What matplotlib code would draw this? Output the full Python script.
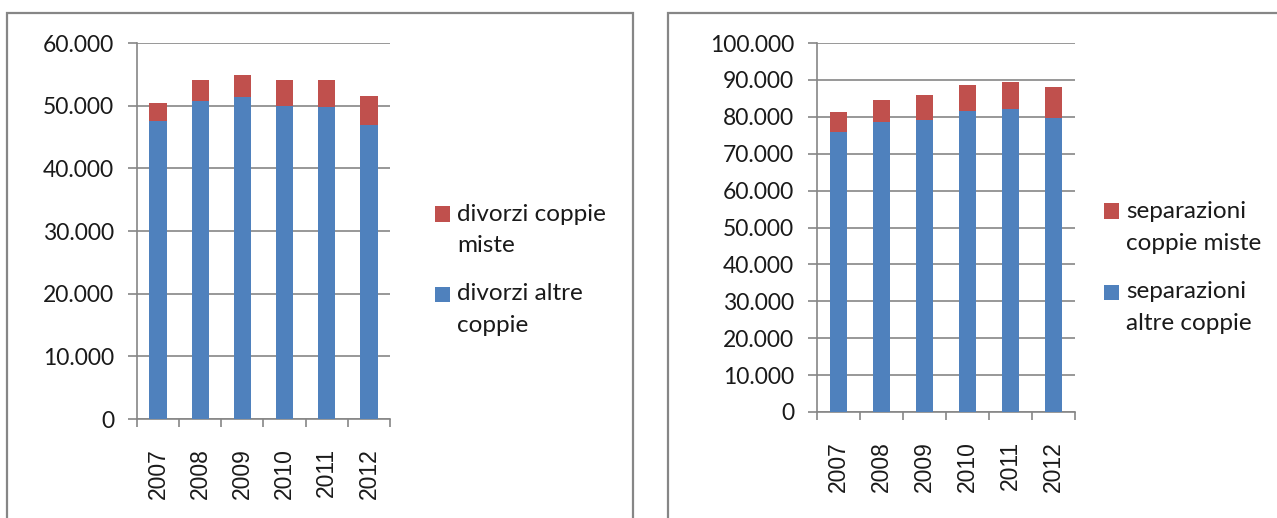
import matplotlib
matplotlib.use("Agg")
import matplotlib.pyplot as plt
import matplotlib.ticker as ticker
from matplotlib.patches import Rectangle

years = ['2007', '2008', '2009', '2010', '2011', '2012']

divorzi_altre = [47500, 50800, 51400, 50000, 49800, 46900]
divorzi_miste = [2900, 3300, 3500, 4100, 4300, 4700]

separazioni_altre = [75900, 78700, 79000, 81500, 82200, 79800]
separazioni_miste = [5400, 5900, 6900, 7200, 7300, 8300]

blue = '#4F81BD'
red = '#C0504D'
grey = '#868686'
txt = '#1a1a1a'

plt.rcParams['font.family'] = ['Lato', 'DejaVu Sans']

W, H = 1277, 518
fig = plt.figure(figsize=(W / 100, H / 100), dpi=100)


def thousands(v, pos):
    return f"{int(v):,}".replace(',', '.')


def draw_panel(ax, altre, miste, ymax, step):
    x = list(range(len(years)))
    ax.bar(x, altre, width=0.41, color=blue, zorder=3)
    ax.bar(x, miste, width=0.41, bottom=altre, color=red, zorder=3)
    ax.set_xlim(-0.5, len(years) - 0.5)
    ax.set_ylim(0, ymax)
    ax.yaxis.set_major_locator(ticker.MultipleLocator(step))
    ax.yaxis.set_major_formatter(ticker.FuncFormatter(thousands))
    ax.yaxis.grid(True, color=grey, linewidth=1.2, zorder=0)
    ax.set_xticks(x)
    ax.set_xticklabels(years, rotation=90, fontsize=16.5, color=txt,
                       family=['Liberation Sans', 'DejaVu Sans'])
    ax.tick_params(axis='x', length=0, pad=21)
    ax.set_xticks([i - 0.5 for i in range(len(years) + 1)], minor=True)
    ax.tick_params(axis='x', which='minor', length=6, width=1.2, color=grey, direction='out')
    ax.tick_params(axis='y', length=6.5, width=1.2, color=grey, labelsize=16.5,
                   labelcolor=txt, pad=10)
    for s in ['top', 'right']:
        ax.spines[s].set_visible(False)
    for s in ['left', 'bottom']:
        ax.spines[s].set_color(grey)
        ax.spines[s].set_linewidth(1.2)
    ax.set_facecolor('none')


def legend_entry(xm, ym, color, label):
    # square marker plus label lines, positions in pixels of the figure
    fig.patches.append(Rectangle((xm / W, 1 - (ym + 7.5) / H), 15 / W, 15 / H,
                                 transform=fig.transFigure, facecolor=color,
                                 edgecolor='none'))
    for i, line in enumerate(label.split('\n')):
        fig.text((xm + 22) / W, 1 - (ym + 32 * i) / H, line, fontsize=17.5,
                 color=txt, va='center', ha='left')


ax1 = fig.add_axes([137 / W, 1 - 419 / H, 253 / W, 376 / H])
draw_panel(ax1, divorzi_altre, divorzi_miste, 60000, 10000)

ax2 = fig.add_axes([817 / W, 1 - 412 / H, 258 / W, 369 / H])
draw_panel(ax2, separazioni_altre, separazioni_miste, 100000, 10000)

legend_entry(435, 214, red, 'divorzi coppie\nmiste')
legend_entry(435, 294, blue, 'divorzi altre\ncoppie')
legend_entry(1104, 211, red, 'separazioni\ncoppie miste')
legend_entry(1104, 292, blue, 'separazioni\naltre coppie')

# chart area borders
fig.patches.append(Rectangle((7 / W, -0.01), 626 / W, 1 - 13 / H + 0.01,
                             transform=fig.transFigure, fill=False,
                             edgecolor=grey, linewidth=1.6))
fig.patches.append(Rectangle((668 / W, -0.01), 620 / W, 1 - 13 / H + 0.01,
                             transform=fig.transFigure, fill=False,
                             edgecolor=grey, linewidth=1.6))

fig.savefig('out.png', dpi=100)
